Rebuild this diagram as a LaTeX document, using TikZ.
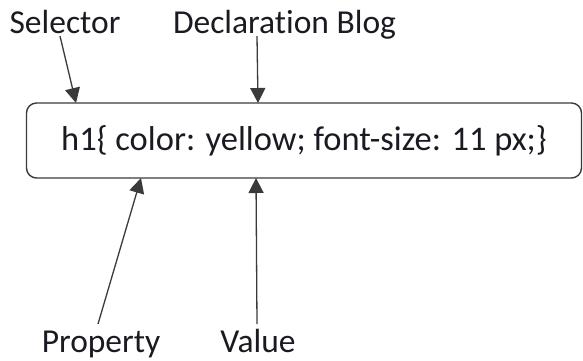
\documentclass[tikz,border=0pt]{standalone}
\usepackage{fontspec}
\setmainfont[Ligatures=NoCommon]{Carlito}
\usetikzlibrary{arrows.meta}
\definecolor{txt}{HTML}{1A1A22}
\definecolor{edge}{HTML}{3A3A3A}
\tikzset{
  lbl/.style={inner sep=0pt, text=txt, font=\fontsize{33.5}{38}\selectfont, anchor=base},
  arr/.style={draw=edge, line width=1.3pt, -{Triangle[length=15pt,width=15pt]}},
  codebox/.style={draw=edge, line width=1.4pt, rounded corners=10pt, minimum width=555pt, minimum height=75pt, inner sep=0pt, text=txt, font=\fontsize{34.5}{38}\selectfont}
}
\begin{document}
\begin{tikzpicture}[x=1pt,y=-1pt]
\useasboundingbox (0,0) rectangle (583,360);
\node[codebox] (box) at (304,140.5) {h1\{ color: yellow; font-size: 11 px;\}};
\node[lbl] (sel) at (65,33) {Selector};
\node[lbl] (dec) at (284.5,33) {Declaration Blog};
\node[lbl] (prop) at (101,352) {Property};
\node[lbl] (val) at (258,352) {Value};
\coordinate (s0) at (60,36);
\coordinate (s1) at (76,103);
\coordinate (d0) at (257,36);
\coordinate (d1) at (258,103);
\coordinate (p0) at (98,324);
\coordinate (p1) at (141,178);
\coordinate (v0) at (257,324);
\coordinate (v1) at (256,178);
\draw[arr] (s0) -- (s1);
\draw[arr] (d0) -- (d1);
\draw[arr] (p0) -- (p1);
\draw[arr] (v0) -- (v1);
\end{tikzpicture}
\end{document}
